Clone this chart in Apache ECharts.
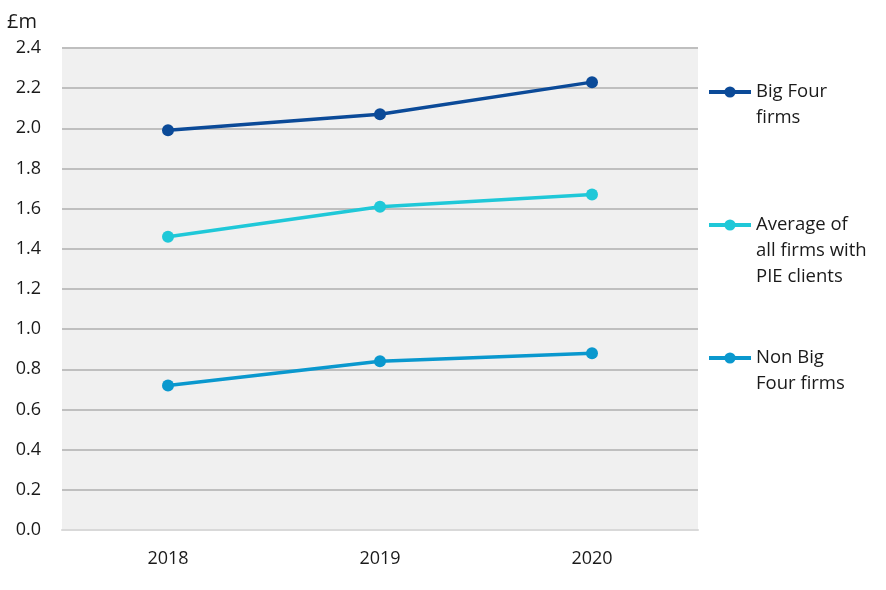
<!DOCTYPE html>
<html>
<head>
<meta charset="utf-8">
<script src="https://cdn.jsdelivr.net/npm/echarts@6/dist/echarts.min.js"></script>
<style>
html,body{margin:0;padding:0;background:#fff;}
#chart{width:886px;height:590px;}
</style>
</head>
<body>
<div id="chart"></div>
<script>
const categories = ['2018', '2019', '2020'];
const bigFour = [1.99, 2.07, 2.23];
const averageAll = [1.46, 1.61, 1.67];
const nonBigFour = [0.72, 0.84, 0.88];
const seriesNames = ['Big Four firms', 'Average of all firms with PIE clients', 'Non Big Four firms'];
const legendLabels = ['Big Four\nfirms', 'Average of\nall firms with\nPIE clients', 'Non Big\nFour firms'];
const colors = ['#0B4A98', '#1FC8D8', '#0A98CE'];

const FONT = '"Open Sans", "Noto Sans", sans-serif';
const LH = 26;
const iconCenters = [92, 225, 358];

const chart = echarts.init(document.getElementById('chart'));

function makeLegend(i) {
  const lines = legendLabels[i].split('\n');
  const n = lines.length;
  const H = (2 * n - 1) * LH;
  const padded = new Array(n - 1).fill(' ').concat(lines).join('\n');
  return {
    data: [seriesNames[i]],
    left: 707,
    top: iconCenters[i] - H / 2,
    padding: 0,
    itemWidth: 42,
    itemHeight: 14,
    selectedMode: false,
    lineStyle: { width: 4 },
    formatter: () => padded,
    textStyle: {
      fontFamily: FONT,
      fontSize: 18.5,
      color: '#1a1a1a',
      lineHeight: LH
    }
  };
}

const data = [bigFour, averageAll, nonBigFour];

chart.setOption({
  animation: false,
  title: {
    text: '£m',
    left: 7,
    top: 12,
    padding: 0,
    textStyle: { fontFamily: FONT, fontSize: 20, fontWeight: 'normal', color: '#1a1a1a' }
  },
  legend: [0, 1, 2].map(makeLegend),
  grid: {
    left: 62, right: 188, top: 48, bottom: 60,
    show: true, backgroundColor: '#f0f0f0', borderWidth: 0
  },
  xAxis: {
    type: 'category',
    data: categories,
    boundaryGap: true,
    axisLine: { show: true, lineStyle: { color: '#d9d9d9', width: 2 } },
    axisTick: { show: false },
    axisLabel: { fontFamily: FONT, fontSize: 18, color: '#1a1a1a', margin: 20 }
  },
  yAxis: {
    type: 'value',
    min: 0, max: 2.4, interval: 0.2,
    axisLine: { show: false },
    axisTick: { show: false },
    axisLabel: {
      fontFamily: FONT, fontSize: 18, color: '#1a1a1a', margin: 21,
      formatter: v => v.toFixed(1)
    },
    splitLine: { lineStyle: { color: '#bfbfbf', width: 2 } }
  },
  series: data.map((d, i) => ({
    name: seriesNames[i],
    type: 'line',
    data: d,
    color: colors[i],
    symbol: 'circle',
    symbolSize: 12,
    lineStyle: { width: 3.5, color: colors[i] },
    itemStyle: { color: colors[i] }
  }))
});
</script>
</body>
</html>
